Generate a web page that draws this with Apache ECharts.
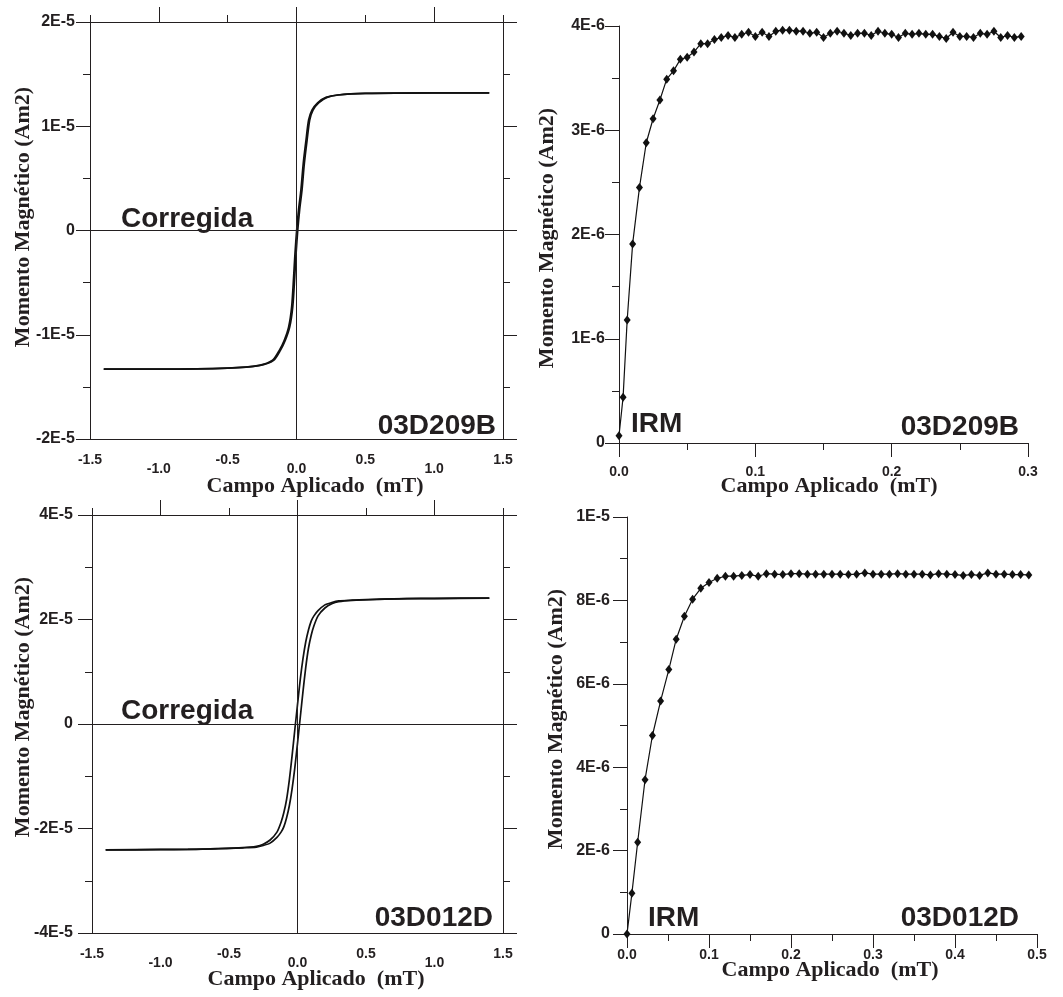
<!DOCTYPE html>
<html>
<head>
<meta charset="utf-8">
<script src="https://cdn.jsdelivr.net/npm/echarts@6/dist/echarts.min.js"></script>
<style>
html,body{margin:0;padding:0;background:#fff;}
#chart{width:1063px;height:997px;}
</style>
</head>
<body>
<div id="chart"></div>
<script>
// ---------- DATA ----------
// Hysteresis loop 03D209B (Am2) – descending and ascending branches
const loopA_descField = [1.4, 1.0, 0.496, 0.296, 0.214, 0.153, 0.112, 0.088, 0.069, 0.049, 0.032, 0.015, 0.001, -0.011, -0.021, -0.035, -0.057, -0.089, -0.125, -0.174, -0.271, -0.504, -1.004, -1.4];
const loopA_descMoment = [1.32e-5, 1.32e-5, 1.315e-5, 1.30e-5, 1.277e-5, 1.225e-5, 1.155e-5, 1.06e-5, 0.867e-5, 0.643e-5, 0.387e-5, 0.20e-5, 0, -0.22e-5, -0.45e-5, -0.73e-5, -0.925e-5, -1.053e-5, -1.15e-5, -1.245e-5, -1.293e-5, -1.32e-5, -1.33e-5, -1.33e-5];
const loopA_ascField = [-1.4, -0.996, -0.496, -0.263, -0.166, -0.117, -0.081, -0.049, -0.027, -0.013, -0.003, 0.009, 0.023, 0.040, 0.057, 0.077, 0.096, 0.120, 0.161, 0.222, 0.304, 0.504, 1.004, 1.4];
const loopA_ascMoment = [-1.33e-5, -1.33e-5, -1.32e-5, -1.293e-5, -1.245e-5, -1.15e-5, -1.053e-5, -0.925e-5, -0.73e-5, -0.45e-5, -0.22e-5, 0, 0.20e-5, 0.387e-5, 0.643e-5, 0.867e-5, 1.06e-5, 1.155e-5, 1.225e-5, 1.277e-5, 1.30e-5, 1.315e-5, 1.32e-5, 1.32e-5];

// Hysteresis loop 03D012D (Am2)
const loopB_descField = [1.4, 1.0, 0.8, 0.6, 0.4, 0.3, 0.25, 0.2, 0.15, 0.12, 0.10, 0.08, 0.06, 0.04, 0.02, 0.0, -0.02, -0.04, -0.06, -0.08, -0.10, -0.12, -0.15, -0.2, -0.25, -0.3, -0.4, -0.6, -0.8, -1.0, -1.4];
const loopB_descMoment = [2.41e-5, 2.405e-5, 2.40e-5, 2.39e-5, 2.37e-5, 2.355e-5, 2.325e-5, 2.28e-5, 2.17e-5, 2.07e-5, 1.97e-5, 1.80e-5, 1.57e-5, 1.25e-5, 0.85e-5, 0.37e-5, -0.12e-5, -0.62e-5, -1.08e-5, -1.45e-5, -1.70e-5, -1.88e-5, -2.07e-5, -2.22e-5, -2.30e-5, -2.34e-5, -2.365e-5, -2.385e-5, -2.40e-5, -2.40e-5, -2.41e-5];
const loopB_ascField = [-1.4, -1.0, -0.8, -0.6, -0.4, -0.3, -0.25, -0.2, -0.15, -0.12, -0.10, -0.08, -0.06, -0.04, -0.02, 0.0, 0.02, 0.04, 0.06, 0.08, 0.10, 0.12, 0.15, 0.2, 0.25, 0.3, 0.4, 0.6, 0.8, 1.0, 1.4];
const loopB_ascMoment = [-2.41e-5, -2.405e-5, -2.40e-5, -2.39e-5, -2.37e-5, -2.355e-5, -2.325e-5, -2.28e-5, -2.17e-5, -2.07e-5, -1.97e-5, -1.80e-5, -1.57e-5, -1.25e-5, -0.85e-5, -0.37e-5, 0.12e-5, 0.62e-5, 1.08e-5, 1.45e-5, 1.70e-5, 1.88e-5, 2.07e-5, 2.22e-5, 2.30e-5, 2.34e-5, 2.365e-5, 2.385e-5, 2.40e-5, 2.40e-5, 2.41e-5];

// IRM acquisition 03D209B
const irmA_field = [0, 0.003, 0.006, 0.010, 0.015, 0.020, 0.025, 0.030, 0.035, 0.040, 0.045, 0.050, 0.055, 0.060, 0.065, 0.070, 0.075, 0.080, 0.085, 0.090, 0.095, 0.100, 0.105, 0.110, 0.115, 0.120, 0.125, 0.130, 0.135, 0.140, 0.145, 0.150, 0.155, 0.160, 0.165, 0.170, 0.175, 0.180, 0.185, 0.190, 0.195, 0.200, 0.205, 0.210, 0.215, 0.220, 0.225, 0.230, 0.235, 0.240, 0.245, 0.250, 0.255, 0.260, 0.265, 0.270, 0.275, 0.280, 0.285, 0.290, 0.295];
const irmA_moment = [0.07e-6, 0.44e-6, 1.18e-6, 1.91e-6, 2.45e-6, 2.88e-6, 3.11e-6, 3.29e-6, 3.49e-6, 3.57e-6, 3.68e-6, 3.70e-6, 3.75e-6, 3.83e-6, 3.83e-6, 3.87e-6, 3.89e-6, 3.91e-6, 3.89e-6, 3.92e-6, 3.94e-6, 3.90e-6, 3.94e-6, 3.90e-6, 3.95e-6, 3.96e-6, 3.96e-6, 3.95e-6, 3.95e-6, 3.93e-6, 3.94e-6, 3.89e-6, 3.93e-6, 3.95e-6, 3.93e-6, 3.91e-6, 3.93e-6, 3.93e-6, 3.91e-6, 3.95e-6, 3.93e-6, 3.92e-6, 3.89e-6, 3.93e-6, 3.92e-6, 3.93e-6, 3.92e-6, 3.92e-6, 3.90e-6, 3.88e-6, 3.94e-6, 3.90e-6, 3.90e-6, 3.89e-6, 3.93e-6, 3.92e-6, 3.95e-6, 3.89e-6, 3.91e-6, 3.89e-6, 3.90e-6];

// IRM acquisition 03D012D
const irmB_field = [0, 0.006, 0.013, 0.022, 0.031, 0.041, 0.051, 0.060, 0.070, 0.08, 0.09, 0.10, 0.11, 0.12, 0.13, 0.14, 0.15, 0.16, 0.17, 0.18, 0.19, 0.20, 0.21, 0.22, 0.23, 0.24, 0.25, 0.26, 0.27, 0.28, 0.29, 0.30, 0.31, 0.32, 0.33, 0.34, 0.35, 0.36, 0.37, 0.38, 0.39, 0.40, 0.41, 0.42, 0.43, 0.44, 0.45, 0.46, 0.47, 0.48, 0.49];
const irmB_moment = [0, 0.98e-6, 2.20e-6, 3.70e-6, 4.76e-6, 5.59e-6, 6.34e-6, 7.07e-6, 7.62e-6, 8.03e-6, 8.29e-6, 8.43e-6, 8.53e-6, 8.58e-6, 8.58e-6, 8.60e-6, 8.62e-6, 8.58e-6, 8.64e-6, 8.63e-6, 8.62e-6, 8.64e-6, 8.64e-6, 8.63e-6, 8.63e-6, 8.63e-6, 8.63e-6, 8.63e-6, 8.62e-6, 8.63e-6, 8.66e-6, 8.63e-6, 8.63e-6, 8.63e-6, 8.64e-6, 8.63e-6, 8.63e-6, 8.63e-6, 8.61e-6, 8.64e-6, 8.63e-6, 8.62e-6, 8.60e-6, 8.62e-6, 8.60e-6, 8.66e-6, 8.63e-6, 8.63e-6, 8.62e-6, 8.62e-6, 8.61e-6];

// Tick label sets
const loopUpperLabels = [-1.5, -0.5, 0.5, 1.5];
const loopLowerLabels = [-1.0, 0.0, 1.0];
const loopLongTopTicks = [-1.0, 0.0, 1.0];

// Texts
const yTitle = 'Momento Magnético (Am2)';
const xTitle = 'Campo Aplicado  (mT)';
const sampleA = '03D209B';
const sampleB = '03D012D';

// ---------- CHART ----------
const INK = '#231f20';
const SANS = "'Liberation Sans', Arial, sans-serif";
const SERIF = "'Liberation Serif', 'Times New Roman', serif";

function zip(xs, ys) { return xs.map((x, i) => [x, ys[i]]); }
function fmtE(v) {
  if (Math.abs(v) < 1e-12) return '0';
  return v.toExponential(0).replace('e', 'E').replace('+', '');
}

const lineStyleAxis = { color: INK, width: 1 };
const lblX = { color: INK, fontFamily: SANS, fontWeight: 'bold', fontSize: 14 };
const lblY = { color: INK, fontFamily: SANS, fontWeight: 'bold', fontSize: 16 };

function loopXAxes(gi) {
  return [
    { gridIndex: gi, type: 'value', position: 'bottom', min: -1.5, max: 1.5, interval: 0.5,
      axisLine: { show: true, onZero: false, lineStyle: lineStyleAxis }, axisTick: { show: false },
      splitLine: { show: false },
      axisLabel: Object.assign({ customValues: loopUpperLabels, margin: 14, showMinLabel: true, showMaxLabel: true, hideOverlap: false,
        formatter: v => v.toFixed(1) }, lblX) },
    { gridIndex: gi, type: 'value', position: 'bottom', min: -1.5, max: 1.5, interval: 0.5,
      axisLine: { show: false, onZero: false }, axisTick: { show: false }, splitLine: { show: false },
      axisLabel: Object.assign({ customValues: loopLowerLabels, margin: 23, hideOverlap: false,
        formatter: v => v.toFixed(1) }, lblX) },
    { gridIndex: gi, type: 'value', position: 'top', min: -1.5, max: 1.5, interval: 0.5,
      axisLine: { show: true, onZero: false, lineStyle: lineStyleAxis },
      axisTick: { show: true, inside: false, length: 7, lineStyle: lineStyleAxis },
      axisLabel: { show: false }, splitLine: { show: false } },
    { gridIndex: gi, type: 'value', position: 'top', min: -1.5, max: 1.5, interval: 0.5,
      axisLine: { show: false, onZero: false },
      axisTick: { show: true, inside: false, length: 15, customValues: loopLongTopTicks, lineStyle: lineStyleAxis },
      axisLabel: { show: false }, splitLine: { show: false } }
  ];
}
function loopYAxes(gi, lim, step, margin) {
  return [
    { gridIndex: gi, type: 'value', position: 'left', min: -lim, max: lim, interval: step,
      axisLine: { show: true, onZero: false, lineStyle: lineStyleAxis },
      axisTick: { show: true, inside: false, length: 14, lineStyle: lineStyleAxis },
      minorTick: { show: true, splitNumber: 2, length: 7, lineStyle: lineStyleAxis },
      splitLine: { show: false }, minorSplitLine: { show: false },
      axisLabel: Object.assign({ margin: margin, formatter: fmtE, showMinLabel: true, showMaxLabel: true, hideOverlap: false }, lblY) },
    { gridIndex: gi, type: 'value', position: 'right', min: -lim, max: lim, interval: step,
      axisLine: { show: true, onZero: false, lineStyle: lineStyleAxis },
      axisTick: { show: true, inside: false, length: 14, lineStyle: lineStyleAxis },
      minorTick: { show: true, splitNumber: 2, length: 7, lineStyle: lineStyleAxis },
      splitLine: { show: false }, minorSplitLine: { show: false },
      axisLabel: { show: false } }
  ];
}
function irmXAxis(gi, max, margin) {
  return { gridIndex: gi, type: 'value', position: 'bottom', min: 0, max: max, interval: 0.1,
    axisLine: { show: true, onZero: false, lineStyle: lineStyleAxis },
    axisTick: { show: true, inside: false, length: 14, lineStyle: lineStyleAxis },
    minorTick: { show: true, splitNumber: 2, length: 7, lineStyle: lineStyleAxis },
    splitLine: { show: false }, minorSplitLine: { show: false },
    axisLabel: Object.assign({ margin: margin, formatter: v => v.toFixed(1), showMinLabel: true, showMaxLabel: true, hideOverlap: false }, lblX) };
}
function irmYAxis(gi, max, step, margin) {
  return { gridIndex: gi, type: 'value', position: 'left', min: 0, max: max, interval: step,
    axisLine: { show: true, onZero: false, lineStyle: lineStyleAxis },
    axisTick: { show: true, inside: false, length: 14, lineStyle: lineStyleAxis },
    minorTick: { show: true, splitNumber: 2, length: 7, lineStyle: lineStyleAxis },
    splitLine: { show: false }, minorSplitLine: { show: false },
    axisLabel: Object.assign({ margin: margin, formatter: fmtE, showMinLabel: true, showMaxLabel: true, hideOverlap: false }, lblY) };
}

const zeroLines = {
  silent: true, symbol: ['none', 'none'], label: { show: false },
  lineStyle: { color: INK, width: 1, type: 'solid' },
  emphasis: { disabled: true },
  data: [{ xAxis: 0 }, { yAxis: 0 }]
};
function loopSeries(xi, yi, data, withZero) {
  const s = { type: 'line', xAxisIndex: xi, yAxisIndex: yi, data: data, showSymbol: false, symbol: 'none',
    smooth: 0.25, lineStyle: { color: '#111', width: 1.7 }, itemStyle: { color: '#111' }, silent: true, z: 3 };
  if (withZero) s.markLine = zeroLines;
  return s;
}
function irmSeries(xi, yi, data) {
  return { type: 'line', xAxisIndex: xi, yAxisIndex: yi, data: data, symbol: 'diamond', symbolSize: [7, 9],
    showAllSymbol: true, lineStyle: { color: '#111', width: 1.2 }, itemStyle: { color: '#111' }, silent: true };
}

function txt(x, y, text, size, align, family, rot) {
  return { type: 'text', x: x, y: y, rotation: rot || 0, silent: true,
    style: { text: text, fill: INK, font: 'bold ' + size + 'px ' + (family || SANS), align: align, verticalAlign: 'middle' } };
}

const option = {
  animation: false,
  backgroundColor: '#ffffff',
  grid: [
    { left: 90, top: 22, width: 413, height: 417 },
    { left: 619, top: 26, width: 409, height: 417 },
    { left: 92, top: 515, width: 411, height: 418 },
    { left: 627, top: 517, width: 410, height: 417 }
  ],
  xAxis: [].concat(loopXAxes(0), loopXAxes(2), [irmXAxis(1, 0.3, 22), irmXAxis(3, 0.5, 14)]),
  yAxis: [].concat(loopYAxes(0, 2e-5, 1e-5, 15), loopYAxes(2, 4e-5, 2e-5, 19),
    [irmYAxis(1, 4e-6, 1e-6, 14), irmYAxis(3, 1e-5, 2e-6, 17)]),
  series: [
    loopSeries(0, 0, zip(loopA_descField, loopA_descMoment), true),
    loopSeries(0, 0, zip(loopA_ascField, loopA_ascMoment), false),
    loopSeries(4, 2, zip(loopB_descField, loopB_descMoment), true),
    loopSeries(4, 2, zip(loopB_ascField, loopB_ascMoment), false),
    irmSeries(8, 4, zip(irmA_field, irmA_moment)),
    irmSeries(9, 5, zip(irmB_field, irmB_moment))
  ],
  graphic: [
    txt(121, 219, 'Corregida', 28, 'left'),
    txt(496, 426, sampleA, 28, 'right'),
    txt(631, 424, 'IRM', 28, 'left'),
    txt(1019, 427, sampleA, 28, 'right'),
    txt(121, 711, 'Corregida', 28, 'left'),
    txt(493, 918, sampleB, 28, 'right'),
    txt(648, 918, 'IRM', 28, 'left'),
    txt(1019, 918, sampleB, 28, 'right'),
    txt(23, 217, yTitle, 22, 'center', SERIF, Math.PI / 2),
    txt(547, 238, yTitle, 22, 'center', SERIF, Math.PI / 2),
    txt(23, 707, yTitle, 22, 'center', SERIF, Math.PI / 2),
    txt(556, 719, yTitle, 22, 'center', SERIF, Math.PI / 2),
    txt(315, 486, xTitle, 22, 'center', SERIF),
    txt(829, 486, xTitle, 22, 'center', SERIF),
    txt(316, 979, xTitle, 22, 'center', SERIF),
    txt(830, 970, xTitle, 22, 'center', SERIF)
  ]
};

const chart = echarts.init(document.getElementById('chart'), null, { renderer: 'canvas' });
chart.setOption(option);
</script>
</body>
</html>
